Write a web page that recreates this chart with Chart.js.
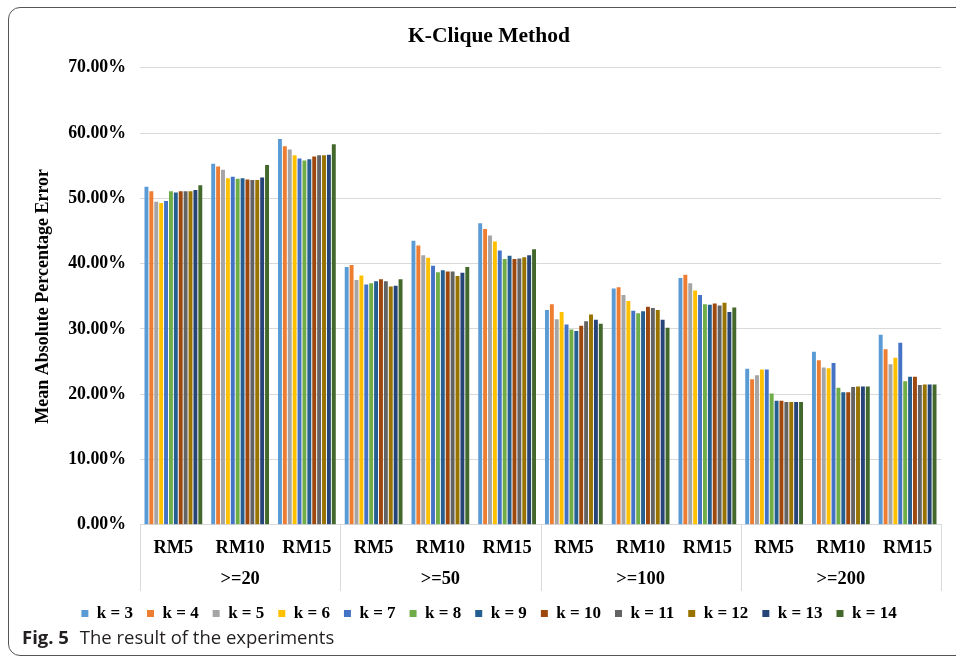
<!DOCTYPE html>
<html>
<head>
<meta charset="utf-8">
<script src="https://cdn.jsdelivr.net/npm/chart.js@4.4.1/dist/chart.umd.min.js"></script>
<style>
  html, body { margin: 0; padding: 0; width: 956px; height: 658px; overflow: hidden; background: #fff; }
  #wrap { position: relative; width: 956px; height: 658px; }
  #c { position: absolute; left: 0; top: 0; }
  #frame { position: absolute; left: 8px; top: 7px; width: 1000px; height: 647px; border: 1.5px solid #555; border-radius: 12px; pointer-events: none; }
  #caption { position: absolute; left: 22px; top: 624px; line-height: 26px; font-family: "Open Sans", sans-serif; font-size: 18.5px; color: #231f20; white-space: nowrap; }
  #caption b { font-weight: 700; margin-right: 6px; }
</style>
</head>
<body>
<div id="wrap">
  <canvas id="c" width="956" height="658"></canvas>
  <div id="frame"></div>
  <div id="caption"><b>Fig. 5</b> The result of the experiments</div>
</div>
<script>
const categories = ['RM5','RM10','RM15','RM5','RM10','RM15','RM5','RM10','RM15','RM5','RM10','RM15'];
const groups = ['>=20','>=50','>=100','>=200'];
const seriesNames = ['k = 3','k = 4','k = 5','k = 6','k = 7','k = 8','k = 9','k = 10','k = 11','k = 12','k = 13','k = 14'];
const seriesColors = ['#5B9BD5','#ED7D31','#A5A5A5','#FFC000','#4472C4','#70AD47','#255E91','#9E480E','#636363','#997300','#264478','#43682B'];
const yTicks = [0,10,20,30,40,50,60,70];

const k3  = [51.8,55.3,59.1, 39.5,43.5,46.2, 32.9,36.2,37.8, 23.9,26.5,29.1];
const k4  = [51.1,54.9,58.0, 39.8,42.8,45.3, 33.8,36.4,38.3, 22.3,25.2,26.9];
const k5  = [49.5,54.4,57.5, 37.5,41.3,44.3, 31.5,35.2,37.0, 22.9,24.1,24.6];
const k6  = [49.3,53.1,56.6, 38.2,40.9,43.4, 32.6,34.3,35.9, 23.8,24.0,25.6];
const k7  = [49.6,53.3,56.1, 36.8,39.7,42.0, 30.7,32.8,35.2, 23.8,24.8,27.9];
const k8  = [51.1,53.0,55.8, 37.0,38.7,40.7, 29.9,32.4,33.8, 20.1,21.0,22.0];
const k9  = [50.9,53.1,56.0, 37.3,39.0,41.2, 29.7,32.7,33.7, 19.0,20.3,22.7];
const k10 = [51.1,52.9,56.4, 37.6,38.8,40.7, 30.5,33.4,33.9, 19.0,20.3,22.7];
const k11 = [51.1,52.8,56.6, 37.3,38.8,40.8, 31.2,33.2,33.6, 18.8,21.1,21.4];
const k12 = [51.1,52.8,56.6, 36.5,38.1,41.0, 32.2,32.9,34.0, 18.8,21.2,21.5];
const k13 = [51.3,53.2,56.7, 36.6,38.6,41.3, 31.4,31.4,32.6, 18.8,21.2,21.5];
const k14 = [52.0,55.1,58.3, 37.6,39.5,42.2, 30.8,30.2,33.3, 18.8,21.2,21.5];

const seriesValues = [k3,k4,k5,k6,k7,k8,k9,k10,k11,k12,k13,k14];

const SERIF = '"Liberation Serif", "Times New Roman", serif';

const groupSeparators = {
  id: 'groupSeparators',
  afterDraw(chart) {
    const x2 = chart.scales.x2;
    const area = chart.chartArea;
    const ctx = chart.ctx;
    const n = groups.length;
    const w = x2.width / n;
    ctx.save();
    ctx.strokeStyle = '#d9d9d9';
    ctx.lineWidth = 1;
    for (let i = 0; i <= n; i++) {
      const px = Math.round(x2.getPixelForValue(Math.min(i, n - 1)) + (i < n ? -w / 2 : w / 2)) + 0.5;
      ctx.beginPath();
      ctx.moveTo(px, area.bottom);
      ctx.lineTo(px, x2.bottom);
      ctx.stroke();
    }
    ctx.restore();
  }
};

new Chart(document.getElementById('c'), {
  type: 'bar',
  data: {
    labels: categories,
    datasets: seriesValues.map((vals, i) => ({
      label: seriesNames[i],
      data: vals,
      backgroundColor: seriesColors[i],
      borderWidth: 0,
      barPercentage: 0.8,
      categoryPercentage: 0.88
    }))
  },
  options: {
    responsive: false,
    animation: false,
    layout: { padding: { left: 37, right: 15, top: 0, bottom: 26 } },
    plugins: {
      title: {
        display: true,
        text: 'K-Clique Method',
        color: '#000',
        font: { family: SERIF, size: 21.5, weight: 'bold', lineHeight: 1.2 },
        padding: { top: 24, bottom: 18 }
      },
      legend: {
        position: 'bottom',
        labels: {
          color: '#000',
          boxWidth: 7,
          boxHeight: 7,
          padding: 14,
          font: { family: SERIF, size: 17, weight: 'bold' }
        }
      },
      tooltip: { enabled: false }
    },
    scales: {
      y: {
        min: 0,
        max: 70,
        afterBuildTicks(scale) { scale.ticks = yTicks.map(v => ({ value: v })); },
        afterFit(scale) { scale.width = 103; },
        ticks: {
          color: '#000',
          padding: 14,
          font: { family: SERIF, size: 17.8, weight: 'bold' },
          callback: v => Number(v).toFixed(2) + '%'
        },
        grid: { color: '#d9d9d9', drawTicks: false },
        border: { display: false },
        title: {
          display: true,
          text: 'Mean Absolute Percentage Error',
          color: '#000',
          font: { family: SERIF, size: 18, weight: 'bold', lineHeight: 1 },
          padding: { top: -3, bottom: 0 }
        }
      },
      x: {
        ticks: {
          color: '#000',
          padding: 12,
          autoSkip: false,
          maxRotation: 0,
          font: { family: SERIF, size: 18.4, weight: 'bold', lineHeight: 1.2 }
        },
        grid: { display: false, drawTicks: false },
        border: { display: true, color: '#d9d9d9', width: 1 }
      },
      x2: {
        type: 'category',
        position: 'bottom',
        labels: groups,
        offset: true,
        afterFit(scale) { scale.height += 4; },
        ticks: {
          color: '#000',
          padding: -3,
          autoSkip: false,
          maxRotation: 0,
          font: { family: SERIF, size: 18.4, weight: 'bold', lineHeight: 1.2 }
        },
        grid: { display: false, drawTicks: false },
        border: { display: false }
      }
    }
  },
  plugins: [groupSeparators]
});
</script>
</body>
</html>
